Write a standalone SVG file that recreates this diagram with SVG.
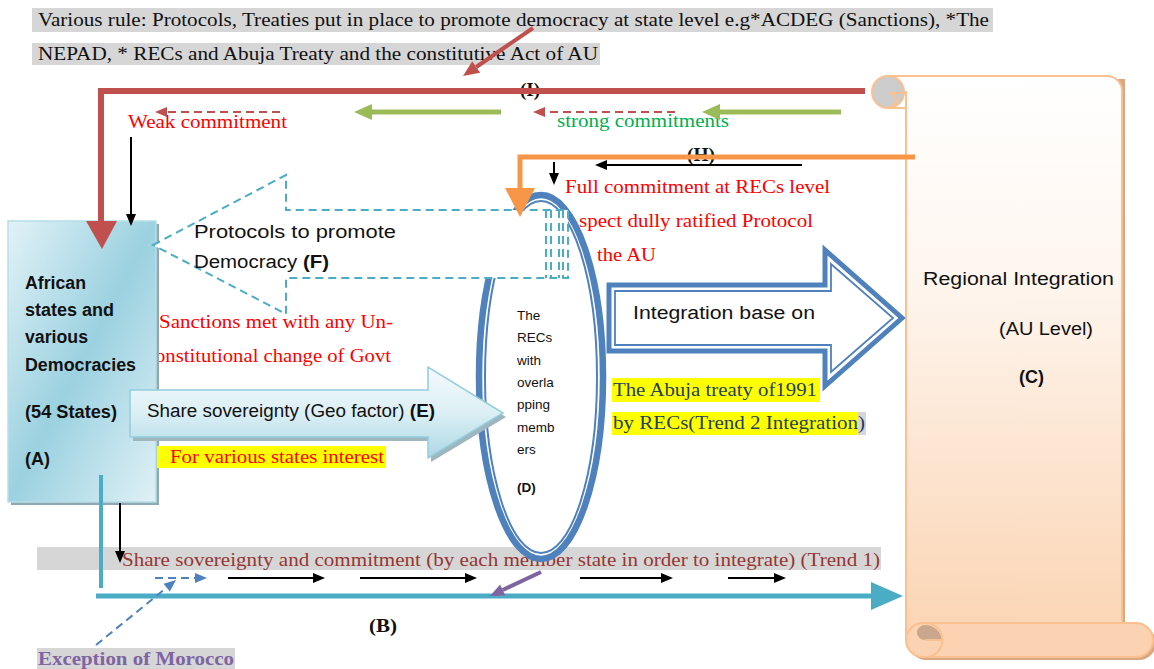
<svg xmlns="http://www.w3.org/2000/svg" width="1154" height="669" viewBox="0 0 1154 669">
<defs>
<style>
.serif{font-family:"Liberation Serif","Times New Roman",serif;font-size:19px}
.sans{font-family:"Liberation Sans",Arial,sans-serif;font-size:18px;fill:#111}
.red{fill:#ff0000}
.b{font-weight:bold}
.hlg{fill:#d6d6d6}
.hly{fill:#ffff00}
.blk{stroke:#000;stroke-width:2;fill:none}
.rdash{stroke:#c0504d;stroke-width:2;fill:none;stroke-dasharray:8 5}
.bdash{stroke:#4f81bd;stroke-width:2;fill:none;stroke-dasharray:8 5}
.grn{stroke:#9bbb59;stroke-width:5;fill:none}
.fdash{stroke:#4bacc6;stroke-width:2;fill:none;stroke-dasharray:8 5}
.dtxt{font-family:"Liberation Sans",Arial,sans-serif;font-size:13.5px;fill:#111}
</style>
<linearGradient id="gA" x1="0" y1="0" x2="1" y2="1">
<stop offset="0" stop-color="#e2f2f7"/>
<stop offset="0.5" stop-color="#9bd1e0"/>
<stop offset="1" stop-color="#e0f1f6"/>
</linearGradient>
<linearGradient id="gE" x1="0" y1="0" x2="0" y2="1">
<stop offset="0" stop-color="#f4fafc"/>
<stop offset="0.5" stop-color="#dceff5"/>
<stop offset="1" stop-color="#acd8e4"/>
</linearGradient>
<linearGradient id="gC" x1="0" y1="0" x2="0" y2="1">
<stop offset="0" stop-color="#ffffff"/>
<stop offset="0.35" stop-color="#fef6ef"/>
<stop offset="1" stop-color="#fbd4b3"/>
</linearGradient>
<marker id="mBlk" markerUnits="userSpaceOnUse" markerWidth="12" markerHeight="10" refX="0" refY="5" orient="auto" overflow="visible"><path d="M0,0 L12,5 L0,10 Z" fill="#000"/></marker>
<marker id="mRed" markerUnits="userSpaceOnUse" markerWidth="12" markerHeight="10" refX="0" refY="5" orient="auto" overflow="visible"><path d="M0,0 L12,5 L0,10 Z" fill="#c0504d"/></marker>
<marker id="mRedBig" markerUnits="userSpaceOnUse" markerWidth="16" markerHeight="14" refX="0" refY="7" orient="auto" overflow="visible"><path d="M0,0 L16,7 L0,14 Z" fill="#c0504d"/></marker>
<marker id="mGrn" markerUnits="userSpaceOnUse" markerWidth="18" markerHeight="16" refX="0" refY="8" orient="auto" overflow="visible"><path d="M0,0 L18,8 L0,16 Z" fill="#9bbb59"/></marker>
<marker id="mPur" markerUnits="userSpaceOnUse" markerWidth="14" markerHeight="12" refX="0" refY="6" orient="auto" overflow="visible"><path d="M0,0 L14,6 L0,12 Z" fill="#8064a2"/></marker>
<marker id="mBlu" markerUnits="userSpaceOnUse" markerWidth="12" markerHeight="10" refX="0" refY="5" orient="auto" overflow="visible"><path d="M0,0 L12,5 L0,10 Z" fill="#4f81bd"/></marker>
</defs>
<rect x="0" y="0" width="1154" height="669" fill="#ffffff"/>

<g id="note-top">
<rect class="hlg" x="32" y="8" width="961" height="24"/>
<rect class="hlg" x="32" y="43" width="568" height="22"/>
<text class="serif" x="38" y="26" textLength="951" lengthAdjust="spacingAndGlyphs" fill="#111">Various rule: Protocols, Treaties put in place to promote democracy at state level e.g*ACDEG (Sanctions), *The</text>
<text class="serif" x="38" y="60" textLength="560" lengthAdjust="spacingAndGlyphs" fill="#111">NEPAD, * RECs and Abuja Treaty and the constitutive Act of AU</text>
</g>

<g id="label-band">
<rect class="hlg" x="37" y="547" width="844" height="23"/>
<text class="serif" x="122" y="566" textLength="758" lengthAdjust="spacingAndGlyphs" fill="#953734">Share sovereignty and commitment (by each member state in order to integrate) (Trend 1)</text>
</g>

<g id="labels-red">
<text class="serif red" x="159" y="328" textLength="234" lengthAdjust="spacingAndGlyphs">Sanctions met with any Un-</text>
<text class="serif red" x="155" y="362" textLength="236" lengthAdjust="spacingAndGlyphs">onstitutional change of Govt</text>
</g>

<g id="node-C">
<rect x="909" y="79" width="216" height="561" fill="#d9a882"/>
<rect x="909" y="626" width="247" height="34" rx="17" fill="#d9a882"/>
<path d="M 888 76 H 1107 A 15 15 0 0 1 1122 91 V 640 H 906 V 92 H 888 Z" fill="url(#gC)" stroke="#fac090" stroke-width="2"/>
<circle cx="888" cy="92" r="16" fill="#cccccc" stroke="#fac090" stroke-width="2"/>
<path d="M 906 93 H 889 A 7 7 0 0 1 896 100 A 7 7 0 0 1 889 107" fill="none" stroke="#fac090" stroke-width="2"/>
<path d="M 888 108 H 906" fill="none" stroke="#fac090" stroke-width="2"/>
<rect x="906" y="623" width="247" height="34" rx="17" fill="#fbd3b2" stroke="#fac090" stroke-width="2"/>
<path d="M 925 640 A 8 7.5 0 0 1 925 625 A 17 17 0 0 1 942 640 Z" fill="#c9a68c"/>
<path d="M 925 623 A 17 17 0 0 1 926 657" fill="none" stroke="#fac090" stroke-width="2"/>
<path d="M 925 640 H 942" fill="none" stroke="#fac090" stroke-width="2"/>
<text class="sans" x="923" y="285" textLength="191" lengthAdjust="spacingAndGlyphs">Regional Integration</text>
<text class="sans" x="999" y="335" textLength="94" lengthAdjust="spacingAndGlyphs">(AU Level)</text>
<text class="sans b" x="1019" y="383" textLength="25" lengthAdjust="spacingAndGlyphs">(C)</text>
</g>

<g id="node-A">
<rect x="11" y="224" width="148" height="281" fill="#8fa9b3"/>
<rect x="8" y="221" width="148" height="281" fill="url(#gA)" stroke="#b7dee8" stroke-width="1.5"/>
<text class="sans b" x="25" y="289" textLength="61" lengthAdjust="spacingAndGlyphs">African</text>
<text class="sans b" x="25" y="316" textLength="89" lengthAdjust="spacingAndGlyphs">states and</text>
<text class="sans b" x="25" y="343" textLength="63" lengthAdjust="spacingAndGlyphs">various</text>
<text class="sans b" x="25" y="371" textLength="111" lengthAdjust="spacingAndGlyphs">Democracies</text>
<text class="sans b" x="25" y="418" textLength="92" lengthAdjust="spacingAndGlyphs">(54 States)</text>
<text class="sans b" x="25" y="465" textLength="25" lengthAdjust="spacingAndGlyphs">(A)</text>
</g>

<g id="node-D">
<ellipse cx="541" cy="377" rx="62" ry="182" fill="#ffffff" stroke="#4f81bd" stroke-width="6.5"/>
<ellipse cx="541" cy="377" rx="56" ry="176" fill="none" stroke="#4f81bd" stroke-width="2"/>
<text class="dtxt" x="517" y="320">The</text>
<text class="dtxt" x="517" y="342">RECs</text>
<text class="dtxt" x="517" y="365">with</text>
<text class="dtxt" x="517" y="387">overla</text>
<text class="dtxt" x="517" y="409">pping</text>
<text class="dtxt" x="517" y="432">memb</text>
<text class="dtxt" x="517" y="454">ers</text>
<text class="dtxt b" x="517" y="492">(D)</text>
</g>

<g id="node-F">
<polygon points="153,245 286,175 286,210 568,210 568,278 286,278 286,314" fill="#ffffff" stroke="#4bacc6" stroke-width="2" stroke-dasharray="8 5"/>
<path class="fdash" d="M 546 210 V 278 M 551 210 V 278 M 559 210 V 278 M 563 210 V 278"/>
<text class="sans" x="194" y="238" textLength="202" lengthAdjust="spacingAndGlyphs">Protocols to promote</text>
<text class="sans" x="194" y="268" textLength="135" lengthAdjust="spacingAndGlyphs">Democracy <tspan class="b">(F)</tspan></text>
</g>

<g id="node-E">
<polygon points="133,394 431,394 431,371 506,417 431,462 431,441 133,441" fill="#9fb6bf"/>
<polygon points="130,390 428,390 428,367 503,413 428,458 428,437 130,437" fill="url(#gE)" stroke="#93cddd" stroke-width="1.5"/>
<text class="sans" x="147" y="417" font-size="16.5" textLength="288" lengthAdjust="spacingAndGlyphs">Share sovereignty (Geo factor) <tspan class="b">(E)</tspan></text>
</g>

<g id="node-G">
<polygon points="609,285 825,285 825,250 902,318 825,386 825,351 609,351" fill="#ffffff" stroke="#4f81bd" stroke-width="5" stroke-linejoin="miter"/>
<polygon points="615,291 831,291 831,264 893,318 831,372 831,345 615,345" fill="none" stroke="#4f81bd" stroke-width="1.8"/>
<text class="sans" x="633" y="319" textLength="182" lengthAdjust="spacingAndGlyphs">Integration base on</text>
</g>

<g id="labels">
<text class="serif b" x="520" y="96" font-size="17" fill="#111">(I)</text>
<text class="serif b" x="687" y="161" font-size="17" textLength="28" lengthAdjust="spacingAndGlyphs" fill="#111">(H)</text>
<text class="serif red" x="128" y="128" textLength="159" lengthAdjust="spacingAndGlyphs">Weak commitment</text>
<text class="serif" x="557" y="127" textLength="172" lengthAdjust="spacingAndGlyphs" fill="#00b050">strong commitments</text>
<text class="serif red" x="565" y="193" textLength="265" lengthAdjust="spacingAndGlyphs">Full commitment at RECs level</text>
<text class="serif red" x="579" y="227" textLength="234" lengthAdjust="spacingAndGlyphs">spect dully ratified Protocol</text>
<text class="serif red" x="597" y="261" textLength="59" lengthAdjust="spacingAndGlyphs">the AU</text>
<rect class="hly" x="157" y="446" width="229" height="22"/>
<text class="serif red" x="170" y="463" textLength="214" lengthAdjust="spacingAndGlyphs">For various states interest</text>
<rect class="hly" x="612" y="378" width="208" height="24"/>
<text class="serif" x="613" y="396" textLength="204" lengthAdjust="spacingAndGlyphs" fill="#243f60">The Abuja treaty of1991</text>
<rect class="hly" x="612" y="412" width="246" height="23"/>
<rect class="hlg" x="858" y="412" width="8" height="23"/>
<text class="serif" x="613" y="429" textLength="252" lengthAdjust="spacingAndGlyphs" fill="#243f60">by RECs(Trend 2 Integration)</text>
<text class="serif b" x="369" y="632" textLength="28" lengthAdjust="spacingAndGlyphs" fill="#111">(B)</text>
<rect class="hlg" x="37" y="648" width="198" height="21"/>
<text class="serif b" x="38" y="665" textLength="196" lengthAdjust="spacingAndGlyphs" fill="#8064a2">Exception of Morocco</text>
</g>

<g id="connectors">
<line x1="533" y1="28" x2="476.2" y2="67" stroke="#c0504d" stroke-width="4" marker-end="url(#mRedBig)"/>
<polyline points="865,91 101,91 101,222" fill="none" stroke="#c0504d" stroke-width="6"/>
<polygon points="86,221 117,221 102,249" fill="#c0504d"/>
<line class="rdash" x1="280" y1="112" x2="167" y2="112" marker-end="url(#mRed)"/>
<line class="rdash" x1="675" y1="112" x2="545" y2="112" marker-end="url(#mRed)"/>
<line class="grn" x1="501" y1="112" x2="372" y2="112" marker-end="url(#mGrn)"/>
<line class="grn" x1="841" y1="112" x2="720" y2="112" marker-end="url(#mGrn)"/>
<line class="blk" x1="131" y1="137" x2="131" y2="214" marker-end="url(#mBlk)"/>
<polyline points="915,157 520,157 520,190" fill="none" stroke="#f79646" stroke-width="5"/>
<polygon points="505,188 535,188 520,217" fill="#f79646"/>
<line class="blk" x1="802" y1="165" x2="607" y2="165" marker-end="url(#mBlk)"/>
<line class="blk" x1="554" y1="162" x2="554" y2="173" marker-end="url(#mBlk)"/>
<line x1="101" y1="475" x2="101" y2="588" stroke="#4bacc6" stroke-width="4"/>
<line x1="96" y1="596" x2="872" y2="596" stroke="#4bacc6" stroke-width="5"/>
<polygon points="871,582 903,596 871,610" fill="#4bacc6"/>
<line class="blk" x1="120" y1="503" x2="120" y2="551" marker-end="url(#mBlk)"/>
<line class="bdash" x1="155" y1="578" x2="195" y2="578" marker-end="url(#mBlu)"/>
<line class="bdash" x1="96" y1="645" x2="166.7" y2="587.6" marker-end="url(#mBlu)"/>
<line class="blk" x1="228" y1="578" x2="313" y2="578" marker-end="url(#mBlk)"/>
<line class="blk" x1="360" y1="578" x2="465" y2="578" marker-end="url(#mBlk)"/>
<line class="blk" x1="580" y1="578" x2="661" y2="578" marker-end="url(#mBlk)"/>
<line class="blk" x1="728" y1="578" x2="774" y2="578" marker-end="url(#mBlk)"/>
<line x1="541" y1="572" x2="502.7" y2="590" stroke="#8064a2" stroke-width="4" marker-end="url(#mPur)"/>
</g>
</svg>
